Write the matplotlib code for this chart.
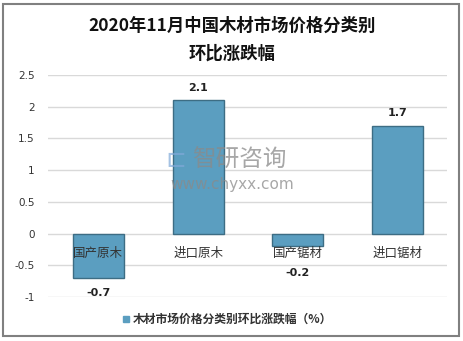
import matplotlib.pyplot as plt
from matplotlib.patches import Rectangle

plt.rcParams['font.family'] = ['Noto Sans CJK SC', 'DejaVu Sans']

categories = ["国产原木", "进口原木", "国产锯材", "进口锯材"]
values = [-0.7, 2.1, -0.2, 1.7]
yticks = [-1, -0.5, 0, 0.5, 1, 1.5, 2, 2.5]
ytick_labels = ["-1", "-0.5", "0", "0.5", "1", "1.5", "2", "2.5"]
title = "2020年11月中国木材市场价格分类别\n环比涨跌幅"
series_name = "木材市场价格分类别环比涨跌幅（%）"

W, H = 464, 341
fig = plt.figure(figsize=(W / 100, H / 100), dpi=100)

# outer frame
fig.patches.append(Rectangle((3.5 / W, 1 - 336 / H), (459 - 3.5) / W, (336 - 3.5) / H,
                             transform=fig.transFigure, fill=False,
                             edgecolor="#808080", linewidth=1.5))

ax = fig.add_axes([48.5 / W, 1 - 297 / H, 399 / W, (297 - 75) / H])
x = list(range(len(categories)))
ax.bar(x, values, width=0.51, color="#5b9ec0", edgecolor="#3d6d84", linewidth=1.0, zorder=3)

ax.set_xlim(-0.5, 3.5)
ax.set_ylim(-1, 2.5)
ax.set_yticks(yticks)
ax.set_yticklabels(ytick_labels, fontsize=7.5, color="#333333", family="DejaVu Sans")
ax.tick_params(axis="y", length=0, pad=10)
ax.set_xticks([])
ax.grid(axis="y", color="#d9d9d9", linewidth=1, zorder=0)
for s in ax.spines.values():
    s.set_visible(False)

# category labels next to the zero line
for i, c in enumerate(categories):
    ax.annotate(c, (i, 0), xytext=(0, -14), textcoords="offset points",
                ha="center", va="center", fontsize=9, color="#333333", zorder=4)

# value labels
offsets = [-11, 9, -19, 9]
for i, v in enumerate(values):
    ax.annotate(f"{v:g}", (i, v), xytext=(0, offsets[i]), textcoords="offset points",
                ha="center", va="center", fontsize=8, fontweight="bold",
                color="#222222", family="DejaVu Sans", zorder=4)

fig.text(0.5, 1 - 40 / H, title, ha="center", va="center", fontsize=12.5,
         fontweight="bold", color="#111111", linespacing=1.7)

# watermark
fig.text(165 / W, 1 - 160 / H, "⊏", fontsize=18, color="#7fa8d8", alpha=0.7,
         ha="left", va="center", family="DejaVu Sans")
fig.text(192 / W, 1 - 160 / H, "智研咨询", fontsize=17, color="#8a8a8a", alpha=0.75,
         ha="left", va="center")
fig.text(232 / W, 1 - 185 / H, "www.chyxx.com", fontsize=11, color="#8a8a8a", alpha=0.75,
         ha="center", va="center", family="DejaVu Sans")

# legend
fig.patches.append(Rectangle((123 / W, 1 - 322 / H), 6 / W, 6 / H,
                             transform=fig.transFigure, color="#5b9ec0"))
fig.text(133 / W, 1 - 319 / H, series_name, fontsize=8.5, fontweight="bold",
         color="#333333", ha="left", va="center")

fig.savefig("out.png", dpi=100)
